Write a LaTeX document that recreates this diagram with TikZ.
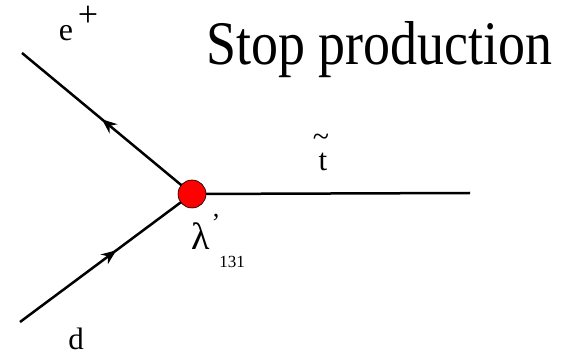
\documentclass[tikz,border=0pt]{standalone}
\usepackage{fontspec}
\setmainfont{Liberation Serif}
\usetikzlibrary{arrows.meta,decorations.markings}
\tikzset{
  fermion/.style={line width=2.5pt, postaction={decorate},
    decoration={markings, mark=at position #1 with {\arrow{Stealth[length=15pt,width=12pt]}}}},
  scalarline/.style={line width=2.5pt},
  vertexdot/.style={circle, fill=red, draw=black, line width=0.6pt, minimum size=28pt, inner sep=0pt},
  lbl/.style={inner sep=0pt, anchor=base, text height=0.7em, text depth=0pt}
}
\begin{document}
\begin{tikzpicture}[x=1pt,y=-1pt]
		\useasboundingbox (0,0) rectangle (562,355);
		\coordinate (v) at (192,194);
		\coordinate (eplus) at (22,53);
		\coordinate (dquark) at (20,322);
		\coordinate (stop) at (470,193);
		\draw[fermion=0.53] (v) -- (eplus);
		\draw[fermion=0.56] (dquark) -- (v);
		\draw[scalarline] (v) -- (stop);
		\node[vertexdot] (vtx) at (v) {};
		\node[lbl,font=\fontsize{32}{32}\selectfont] (elbl) at (66,41) {e};
		\node[lbl,text height=0.5em,font=\fontsize{36}{36}\selectfont] (plbl) at (88,27) {+};
		\node[lbl,font=\fontsize{31}{31}\selectfont] (tlbl) at (323,171) {t};
		\node[lbl,text height=0.3em,font=\fontsize{30}{30}\selectfont] (tilde) at (321,147) {\textasciitilde};
		\node[lbl,font=\fontsize{31}{31}\selectfont] (dlbl) at (76,349) {d};
		\node[lbl,font=\fontsize{38}{38}\selectfont] (lam) at (201,250) {λ};
		\node[lbl,font=\fontsize{26}{26}\selectfont] (prime) at (216,232) {’};
		\node[lbl,font=\fontsize{17}{17}\selectfont] (idx) at (232,268) {131};
		\node[lbl,anchor=base west,font=\fontsize{62}{62}\selectfont] (title) at (206,65) {\scalebox{0.87}[1]{Stop production}};
\end{tikzpicture}
\end{document}
